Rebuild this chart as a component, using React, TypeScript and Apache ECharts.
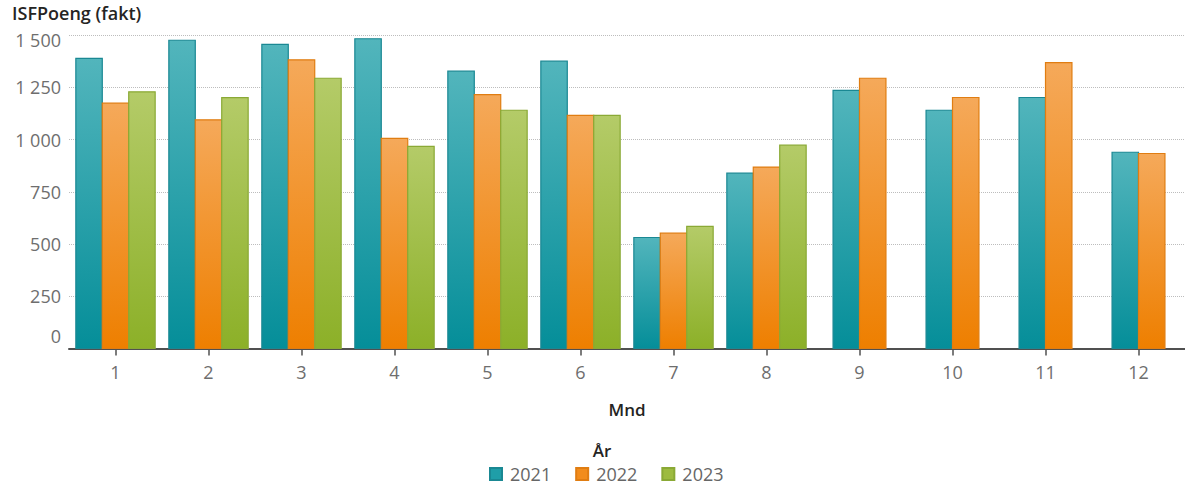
import React, { useEffect, useRef } from "react";
import * as echarts from "echarts";

// Monthly ISF points per year
const months = ["1", "2", "3", "4", "5", "6", "7", "8", "9", "10", "11", "12"];
const years = ["2021", "2022", "2023"];
const v2021: (number | null)[] = [1388, 1475, 1455, 1482, 1327, 1375, 531, 839, 1235, 1140, 1201, 939];
const v2022: (number | null)[] = [1174, 1094, 1381, 1005, 1215, 1115, 552, 868, 1293, 1201, 1368, 933];
const v2023: (number | null)[] = [1228, 1200, 1293, 967, 1140, 1115, 584, 973, null, null, null, null];
const yTicks = [0, 250, 500, 750, 1000, 1250, 1500];

const seriesValues = [v2021, v2022, v2023];

// Bar colouring per year: gradient top -> bottom, plus outline
const palette = [
  { top: "#52b5bc", bottom: "#058e99", stroke: "#1a8893", legend: "#1f9ea8" },
  { top: "#f5a95a", bottom: "#ee7f00", stroke: "#e07d12", legend: "#f28c1c" },
  { top: "#b4cb68", bottom: "#8cb028", stroke: "#8aa935", legend: "#9dbb40" },
];

const CATEGORY_GAP = 0.147;
const FONT = "'Open Sans', 'Noto Sans', sans-serif";
const LABEL = "#6e6e6e";

const fmt = (v: number) =>
  v >= 1000 ? `${Math.floor(v / 1000)} ${String(v % 1000).padStart(3, "0")}` : String(v);

function makeSeries(s: number) {
  const data = seriesValues[s]
    .map((v, i) => (v == null ? null : [i, v]))
    .filter((d) => d !== null);
  const c = palette[s];
  return {
    type: "custom",
    name: years[s],
    data,
    encode: { x: 0, y: 1 },
    itemStyle: { color: c.legend, borderColor: c.stroke, borderWidth: 1 },
    renderItem: (params: any, api: any) => {
      const cat = api.value(0);
      const val = api.value(1);
      // Bars in a month are packed side by side, centred on the tick,
      // using only the years that have a value for that month.
      const present = seriesValues
        .map((arr, i) => (arr[cat] != null ? i : -1))
        .filter((i) => i >= 0);
      const k = present.indexOf(s);
      const n = present.length;
      const band = api.size([1, 0])[0];
      const bw = (band * (1 - CATEGORY_GAP)) / 3;
      const base = api.coord([cat, 0]);
      const top = api.coord([cat, val]);
      const x = base[0] - (n * bw) / 2 + k * bw;
      return {
        type: "rect",
        shape: { x: x, y: top[1], width: bw, height: base[1] - top[1] },
        style: {
          fill: new echarts.graphic.LinearGradient(0, 0, 0, 1, [
            { offset: 0, color: c.top },
            { offset: 1, color: c.bottom },
          ]),
          stroke: c.stroke,
          lineWidth: 1.2,
        },
      };
    },
  };
}

export default function App() {
  const ref = useRef<HTMLDivElement>(null);

  useEffect(() => {
    if (!ref.current) return;
    const chart = echarts.init(ref.current, undefined, { renderer: "svg" });
    chart.setOption({
      animation: false,
      textStyle: { fontFamily: FONT },
      grid: { left: 69, top: 35, width: 1126, height: 313.5 },
      xAxis: {
        type: "category",
        data: months,
        name: "Mnd",
        nameLocation: "middle",
        nameGap: 61,
        nameTextStyle: {
          fontSize: 17,
          fontWeight: 600,
          color: "#252423",
          fontFamily: FONT,
          verticalAlign: "middle",
        },
        axisLine: { show: true, lineStyle: { color: "#505050", width: 2 } },
        axisTick: { show: true, alignWithLabel: true, length: 7, lineStyle: { color: "#505050", width: 1.5 } },
        axisLabel: { fontSize: 18, color: LABEL, margin: 14, fontFamily: FONT },
        splitLine: { show: false },
      },
      yAxis: {
        type: "value",
        min: yTicks[0],
        max: yTicks[yTicks.length - 1],
        interval: yTicks[1] - yTicks[0],
        axisLine: { show: false },
        axisTick: { show: false },
        axisLabel: {
          margin: 8,
          fontSize: 18,
          color: LABEL,
          fontFamily: FONT,
          formatter: (v: number) =>
            v === 0 ? `{low|${fmt(v)}}` : v === 1500 ? `{high|${fmt(v)}}` : fmt(v),
          rich: {
            low: { fontSize: 18, color: LABEL, fontFamily: FONT, padding: [0, 0, 26, 0] },
            high: { fontSize: 18, color: LABEL, fontFamily: FONT, padding: [10, 0, 0, 0] },
          },
        },
        splitLine: { show: true, lineStyle: { type: "dotted", color: "#bdbdbd", width: 1 } },
      },
      legend: {
        data: years,
        bottom: 2,
        left: 484,
        icon: "rect",
        itemWidth: 12,
        itemHeight: 12,
        itemGap: 24,
        textStyle: { fontSize: 18, color: "#666666", fontFamily: FONT, padding: [0, 0, 0, 3] },
      },
      graphic: [
        {
          type: "text",
          left: 12,
          top: 4,
          style: {
            text: "ISFPoeng (fakt)",
            font: `600 18px ${FONT}`,
            fill: "#252423",
          },
        },
        {
          type: "text",
          x: 602,
          y: 450,
          style: {
            text: "År",
            font: `600 17px ${FONT}`,
            fill: "#252423",
            textAlign: "center",
            textVerticalAlign: "middle",
          },
        },
      ],
      series: [makeSeries(0), makeSeries(1), makeSeries(2)],
    });
    return () => chart.dispose();
  }, []);

  return (
    <div
      ref={ref}
      style={{ position: "absolute", left: 0, top: 0, width: 1185, height: 490 }}
    />
  );
}
